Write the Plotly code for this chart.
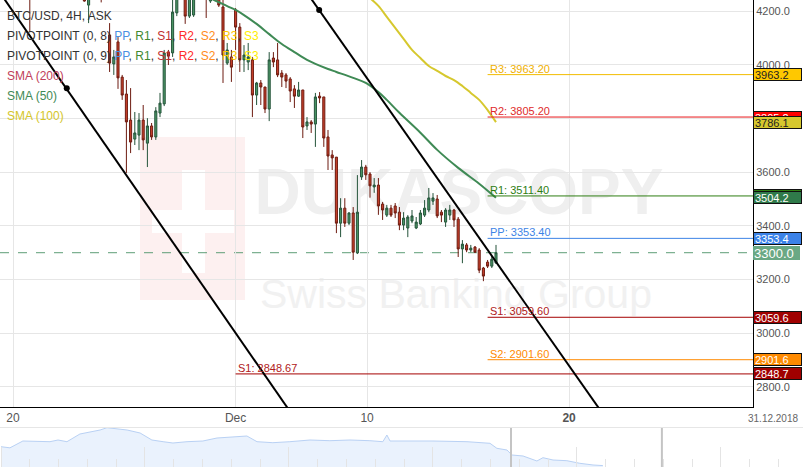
import plotly.graph_objects as go

FONT = "Liberation Sans, Arial, sans-serif"

# ---------------- data ----------------
candle_open = [4700, 4680, 4590, 4500, 4450, 4400, 4350, 4330, 4290, 4400,
               4460, 4490, 4470, 4440, 4420, 4450, 4410, 4380, 4340, 4310,
               4280, 4222, 4260, 4290, 4270, 4250, 4111, 4003, 4085, 3954,
               3891, 3794, 3723, 3738, 3794, 3708, 3772, 3731, 3820, 3854,
               4047, 4044, 4193, 4260, 4270, 4181, 4185, 4265, 4290, 4270,
               4237, 4250, 4260, 4215, 4006, 4029, 4204, 4140, 4018, 4010,
               4018, 3887, 3932, 3917, 3835, 4025, 4018, 3969, 3962, 3947,
               3910, 3883, 3906, 3772, 3787, 3779, 3883, 3880, 3731, 3664,
               3656, 3410, 3466, 3410, 3448, 3299, 3582, 3619, 3593, 3545,
               3552, 3481, 3440, 3466, 3474, 3451, 3403, 3392, 3418, 3392,
               3407, 3440, 3459, 3492, 3500, 3451, 3414, 3440, 3459, 3425,
               3314, 3329, 3310, 3321, 3310, 3243, 3265, 3250, 3262]
candle_high = [4760, 4700, 4620, 4540, 4480, 4430, 4380, 4360, 4420, 4480,
               4520, 4540, 4500, 4470, 4460, 4480, 4440, 4400, 4370, 4330,
               4300, 4270, 4300, 4310, 4290, 4280, 4155, 4055, 4103, 3962,
               3943, 3913, 3824, 3820, 3850, 3801, 3783, 3842, 3895, 4055,
               4055, 4252, 4275, 4300, 4285, 4265, 4290, 4310, 4320, 4290,
               4270, 4285, 4280, 4260, 4081, 4055, 4211, 4155, 4073, 4081,
               4029, 3936, 3943, 3917, 4047, 4047, 4081, 3980, 3969, 3954,
               3924, 3936, 3906, 3805, 3794, 3895, 3898, 3880, 3757, 3682,
               3656, 3503, 3503, 3451, 3470, 3589, 3645, 3627, 3600, 3578,
               3578, 3489, 3478, 3478, 3485, 3470, 3451, 3440, 3459, 3433,
               3459, 3496, 3541, 3522, 3515, 3459, 3466, 3478, 3463, 3433,
               3347, 3336, 3329, 3325, 3317, 3247, 3273, 3288, 3329]
candle_low = [4650, 4560, 4480, 4420, 4380, 4330, 4300, 4122, 4270, 4380,
              4430, 4450, 4420, 4400, 4390, 4400, 4360, 4320, 4290, 4260,
              4235, 4155, 4250, 4255, 4232, 4245, 3973, 3962, 3910, 3869,
              3597, 3671, 3701, 3682, 3682, 3619, 3720, 3720, 3805, 3846,
              3999, 4029, 4181, 4245, 4152, 4174, 4178, 4250, 4255, 4174,
              4230, 4245, 4215, 3932, 3999, 3936, 4055, 3973, 3973, 3980,
              3805, 3850, 3850, 3820, 3790, 3991, 3954, 3917, 3913, 3861,
              3839, 3880, 3727, 3757, 3746, 3694, 3857, 3694, 3608, 3608,
              3373, 3358, 3396, 3403, 3273, 3295, 3571, 3571, 3505, 3523,
              3441, 3422, 3433, 3433, 3429, 3384, 3384, 3358, 3410, 3388,
              3403, 3433, 3451, 3478, 3429, 3414, 3396, 3422, 3396, 3284,
              3261, 3302, 3302, 3299, 3224, 3194, 3243, 3243, 3258]
candle_close = [4680, 4590, 4500, 4450, 4400, 4350, 4330, 4290, 4400, 4460,
                4490, 4470, 4440, 4420, 4450, 4410, 4380, 4340, 4310, 4280,
                4237, 4260, 4290, 4270, 4250, 4260, 4006, 4029, 3951, 3887,
                3787, 3712, 3746, 3794, 3720, 3772, 3731, 3828, 3857, 4044,
                4032, 4196, 4260, 4280, 4181, 4250, 4265, 4290, 4270, 4250,
                4250, 4260, 4222, 4036, 4055, 3991, 4140, 4018, 4036, 4029,
                3887, 3932, 3917, 3835, 4018, 4010, 3962, 3954, 3939, 3902,
                3883, 3906, 3768, 3787, 3779, 3880, 3876, 3727, 3660, 3653,
                3410, 3466, 3410, 3448, 3302, 3451, 3619, 3590, 3549, 3552,
                3474, 3459, 3466, 3440, 3448, 3403, 3429, 3433, 3437, 3414,
                3448, 3466, 3504, 3504, 3437, 3440, 3459, 3459, 3422, 3314,
                3332, 3310, 3317, 3302, 3235, 3213, 3250, 3276, 3300]
candle_idx = list(range(len(candle_close)))

tick_vals = [3, 56, 87.3, 135.4]
tick_text = ["20", "Dec", "10", "<b>20</b>"]
end_date_label = "31.12.2018"

sma50_idx = [48, 51, 54, 56, 58, 61, 64, 67, 70, 73, 75, 78, 80, 84, 87, 90,
             92, 95, 100, 104, 109, 114, 118]
sma50_val = [4258, 4240, 4218, 4204, 4185, 4152, 4114, 4077, 4047, 4018, 4003,
             3984, 3973, 3951, 3932, 3898, 3869, 3821, 3747, 3683, 3616, 3557,
             3504.2]
sma100_idx = [88, 90, 92, 94, 96, 98, 100, 102, 104, 106, 108, 110, 112, 114,
              116, 118]
sma100_val = [4248, 4219, 4178, 4137, 4096, 4055, 4025, 3995, 3977, 3958, 3943,
              3921, 3895, 3869, 3831, 3786.1]

# weekly pivot sets: (0, 8) current week and (0, 9) previous
pivA_names = ["R3", "R2", "R1", "PP", "S1", "S2"]
pivA_values = [3963.20, 3805.20, 3511.40, 3353.40, 3059.60, 2901.60]
pivA_start = 116
pivB_names = ["S1"]
pivB_values = [2848.67]
pivB_start = 56

# user trend-lines (channel): x in candle index, y in price
trendA_x = [-2, 72]
trendA_y = [4311, 2640]
trendA_anchor = (15.8, 3912)
trendB_x = [72, 146]
trendB_y = [4290, 2643]
trendB_anchor = (75.9, 4204)

# navigator (longer history of closes)
nav_x = [0, 0.31, 0.76, 1.70, 1.98, 2.29, 2.74, 3.44, 3.68, 4.03, 4.38, 4.83,
         5.24, 5.63, 5.97, 6.46, 7.01, 7.50, 8.06, 8.54, 8.89, 9.44, 10.03,
         10.73, 11.42, 12.12, 12.81, 13.26, 13.40, 13.51, 15.00, 16.18, 16.98,
         17.22, 17.57, 17.74, 18.13, 18.37, 18.61, 18.82, 19.17, 19.65, 20.10,
         20.56, 20.90]
nav_close = [5773, 5612, 6574, 6475, 6714, 6475, 7557, 8119, 8442, 8260, 8119,
             7698, 6714, 6475, 6293, 6475, 6574, 6995, 7178, 7276, 6475, 6335,
             6475, 6714, 6616, 6714, 6616, 6475, 7417, 6574, 6574, 6475, 6250,
             5548, 5309, 4607, 4466, 4143, 3764, 4227, 3904, 3806, 3440, 3202,
             3120]
nav_window = [17.71, 22.95]

# ---------------- styles ----------------
piv_line_col = {"R3": "#f2bc00", "R2": "#e8191c", "R1": "#2e7d12",
                "PP": "#3d84e6", "S1": "#a40000", "S2": "#ff8a00"}
piv_text_col = {"R3": "#f0b000", "R2": "#e02a2a", "R1": "#2e7d12",
                "PP": "#3d84e6", "S1": "#b02020", "S2": "#ff8a00"}
piv_tag_bg = {"R3": "#ffc800", "R2": "#ff0000", "R1": "#2e7d12",
              "PP": "#3b82e8", "S1": "#a00000", "S2": "#ff8a00"}
piv_tag_fg = {"R3": "#222", "R2": "#fff", "R1": "#fff",
              "PP": "#fff", "S1": "#fff", "S2": "#fff"}
SMA50_COL = "#3f8a55"
SMA100_COL = "#d6c82e"

X_END = 179.19
XDOM = 753 / 803
YDOM0 = 60 / 467

fig = go.Figure()

fig.add_trace(go.Candlestick(
    x=candle_idx, open=candle_open, high=candle_high, low=candle_low,
    close=candle_close,
    increasing=dict(line=dict(color="#24533a", width=1), fillcolor="#4b9866"),
    decreasing=dict(line=dict(color="#6d1b10", width=1), fillcolor="#c9412c"),
    whiskerwidth=0, showlegend=False, hoverinfo="skip"))

fig.add_trace(go.Scatter(x=sma50_idx, y=sma50_val, mode="lines",
                         line=dict(color=SMA50_COL, width=2, shape="spline"),
                         hoverinfo="skip"))
fig.add_trace(go.Scatter(x=sma100_idx, y=sma100_val, mode="lines",
                         line=dict(color=SMA100_COL, width=2, shape="spline"),
                         hoverinfo="skip"))

annotations = []


def pivot(names, values, start):
    for n, v in zip(names, values):
        fig.add_trace(go.Scatter(x=[start, X_END + 1], y=[v, v], mode="lines",
                                 line=dict(color=piv_line_col[n], width=1),
                                 hoverinfo="skip"))
        annotations.append(dict(x=start, y=v, xref="x", yref="y",
                                text=f"{n}: {v:.2f}", showarrow=False,
                                xanchor="left", yanchor="bottom", yshift=-2,
                                font=dict(size=11, color=piv_text_col[n])))


pivot(pivA_names, pivA_values, pivA_start)
pivot(pivB_names, pivB_values, pivB_start)

for tx, ty, anc in [(trendA_x, trendA_y, trendA_anchor),
                    (trendB_x, trendB_y, trendB_anchor)]:
    fig.add_trace(go.Scatter(x=tx, y=ty, mode="lines",
                             line=dict(color="#000", width=2), hoverinfo="skip"))
    fig.add_trace(go.Scatter(x=[anc[0]], y=[anc[1]], mode="markers",
                             marker=dict(color="#000", size=6), hoverinfo="skip"))

# navigator
fig.add_trace(go.Scatter(x=nav_x, y=nav_close, xaxis="x2", yaxis="y2",
                         mode="lines", fill="tozeroy", fillcolor="#eaf2fd",
                         line=dict(color="#b9d1f4", width=1), hoverinfo="skip"))

# ---------------- right-side value tags ----------------
def tag(value, bg, fg, size=11, border=1, box_h=9):
    annotations.append(dict(xref="paper", x=XDOM, y=value, yref="y",
                            xanchor="left", yanchor="middle",
                            text=f"{value:.1f}", showarrow=False, align="left",
                            width=45, height=box_h, bgcolor=bg,
                            bordercolor="#111", borderwidth=border, borderpad=1,
                            font=dict(size=size, color=fg)))


lookup = dict(zip(pivA_names, pivA_values))
tag(lookup["R3"], piv_tag_bg["R3"], piv_tag_fg["R3"])
tag(lookup["R2"], piv_tag_bg["R2"], piv_tag_fg["R2"])
tag(sma100_val[-1], SMA100_COL, "#222")
tag(lookup["R1"], piv_tag_bg["R1"], "#fff")
tag(sma50_val[-1], "#2f7a4a", "#fff")
tag(lookup["PP"], piv_tag_bg["PP"], "#fff")
tag(candle_close[-1], "#6aa884", "#fff", size=13, border=0, box_h=12)
tag(lookup["S1"], piv_tag_bg["S1"], "#fff")
tag(lookup["S2"], piv_tag_bg["S2"], "#fff")
tag(pivB_values[0], piv_tag_bg["S1"], "#fff")

# ---------------- legend text (top-left) ----------------
def c(t, col):
    return f"<span style='color:{col}'>{t}</span>"


piv_leg = ", ".join([c("PP", "#4a90e2"), c("R1", "#3f8a2f"), c("S1", "#c03030"),
                     c("R2", "#ff2a2a"), c("S2", "#ff8c1a"), c("R3", "#ffc800"),
                     c("S3", "#ffee00")])
legend_lines = [
    ("BTC/USD, 4H, ASK", 16),
    ("PIVOTPOINT (0, 8) " + piv_leg, 36),
    ("PIVOTPOINT (0, 9) " + piv_leg, 56),
    (c("SMA (200)", "#c0405a"), 76),
    (c("SMA (50)", SMA50_COL), 96),
    (c("SMA (100)", "#d4c62a"), 116),
]
for txt, ypx in legend_lines:
    annotations.append(dict(xref="paper", yref="paper", x=5 / 803,
                            y=(467 - ypx) / 467, xanchor="left",
                            yanchor="middle", text=txt, showarrow=False,
                            font=dict(size=12, color="#333")))

annotations.append(dict(xref="paper", yref="paper", x=800 / 803,
                        y=(467 - 418) / 467, xanchor="right",
                        yanchor="middle", text=end_date_label,
                        showarrow=False, font=dict(size=10, color="#666")))

# ---------------- shapes ----------------
def P(xpx, ypx):
    return xpx / 803, (467 - ypx) / 467


shapes = []
# watermark
x0, y0 = P(140, 137); x1, y1 = P(245, 300)
shapes.append(dict(type="rect", xref="paper", yref="paper", x0=x0, x1=x1,
                   y0=y1, y1=y0, fillcolor="#fdf0f0", line=dict(width=0),
                   layer="below"))
x0, y0 = P(182, 170); x1, y1 = P(205, 273)
shapes.append(dict(type="rect", xref="paper", yref="paper", x0=x0, x1=x1,
                   y0=y1, y1=y0, fillcolor="#ffffff", line=dict(width=0),
                   layer="below"))
x0, y0 = P(152, 210); x1, y1 = P(234, 233)
shapes.append(dict(type="rect", xref="paper", yref="paper", x0=x0, x1=x1,
                   y0=y1, y1=y0, fillcolor="#ffffff", line=dict(width=0),
                   layer="below"))
x0, y0 = P(262, 130); x1, y1 = P(656, 242)
shapes.append(dict(type="rect", xref="paper", yref="paper", x0=x0, x1=x1,
                   y0=y1, y1=y0, line=dict(width=0), layer="below",
                   label=dict(text="DUKASCOPY", textposition="middle center",
                              font=dict(size=64, color="#efefef",
                                        family="Liberation Sans",
                                        weight="bold"))))
x0, y0 = P(262, 255); x1, y1 = P(650, 325)
shapes.append(dict(type="rect", xref="paper", yref="paper", x0=x0, x1=x1,
                   y0=y1, y1=y0, line=dict(width=0), layer="below",
                   label=dict(text="Swiss Banking Group", textposition="middle center",
                              font=dict(size=41, color="#f1f1f1",
                                        family="Liberation Sans"))))
# current price line
shapes.append(dict(type="line", xref="x domain", yref="y", x0=0, x1=1,
                   y0=candle_close[-1], y1=candle_close[-1],
                   line=dict(color="#5e9e76", width=1, dash="dash"),
                   layer="below"))
# navigator window handles
for hx in nav_window:
    shapes.append(dict(type="line", xref="x2", yref="y2 domain", x0=hx, x1=hx,
                       y0=0, y1=1, line=dict(color="#c4c4c4", width=2)))

fig.update_layout(
    width=803, height=467, margin=dict(l=0, r=0, t=0, b=0, autoexpand=False),
    paper_bgcolor="white", plot_bgcolor="white", showlegend=False,
    font=dict(family=FONT),
    xaxis=dict(domain=[0, XDOM], range=[-0.095, X_END], anchor="y",
               automargin=False,
               tickvals=tick_vals, ticktext=tick_text,
               showgrid=True, gridcolor="#e6e6e6", gridwidth=1,
               zeroline=False, showline=True, linecolor="#000", linewidth=1,
               ticks="", tickfont=dict(size=12, color="#555"),
               rangeslider=dict(visible=False), fixedrange=True),
    yaxis=dict(domain=[YDOM0, 1], range=[2725.5, 4241], anchor="x",
               automargin=False,
               side="right", tick0=2800, dtick=200, tickformat=".1f",
               showgrid=True, gridcolor="#e6e6e6", zeroline=False,
               showline=True, linecolor="#000", linewidth=1,
               tickfont=dict(size=11, color="#555"), fixedrange=True),
    xaxis2=dict(domain=[0, 1], range=[-0.035, 27.85], anchor="y2",
                automargin=False,
                showticklabels=False, showgrid=False, zeroline=False,
                ticks="inside", ticklen=20, tickcolor="#e4e4e4", tick0=0,
                dtick=5,
                minor=dict(ticks="inside", ticklen=8, tickcolor="#e4e4e4",
                           dtick=1, showgrid=False),
                showline=True, mirror=True, linecolor="#e6e6e6"),
    yaxis2=dict(domain=[0, 39 / 467], range=[2920, 8400], anchor="x2",
                automargin=False, visible=False),
    annotations=annotations,
    shapes=shapes,
)

fig.write_html(
    "out.html",
    config={"displayModeBar": False},
    post_script="document.body.style.margin='0';document.body.style.overflow='hidden';",
)
